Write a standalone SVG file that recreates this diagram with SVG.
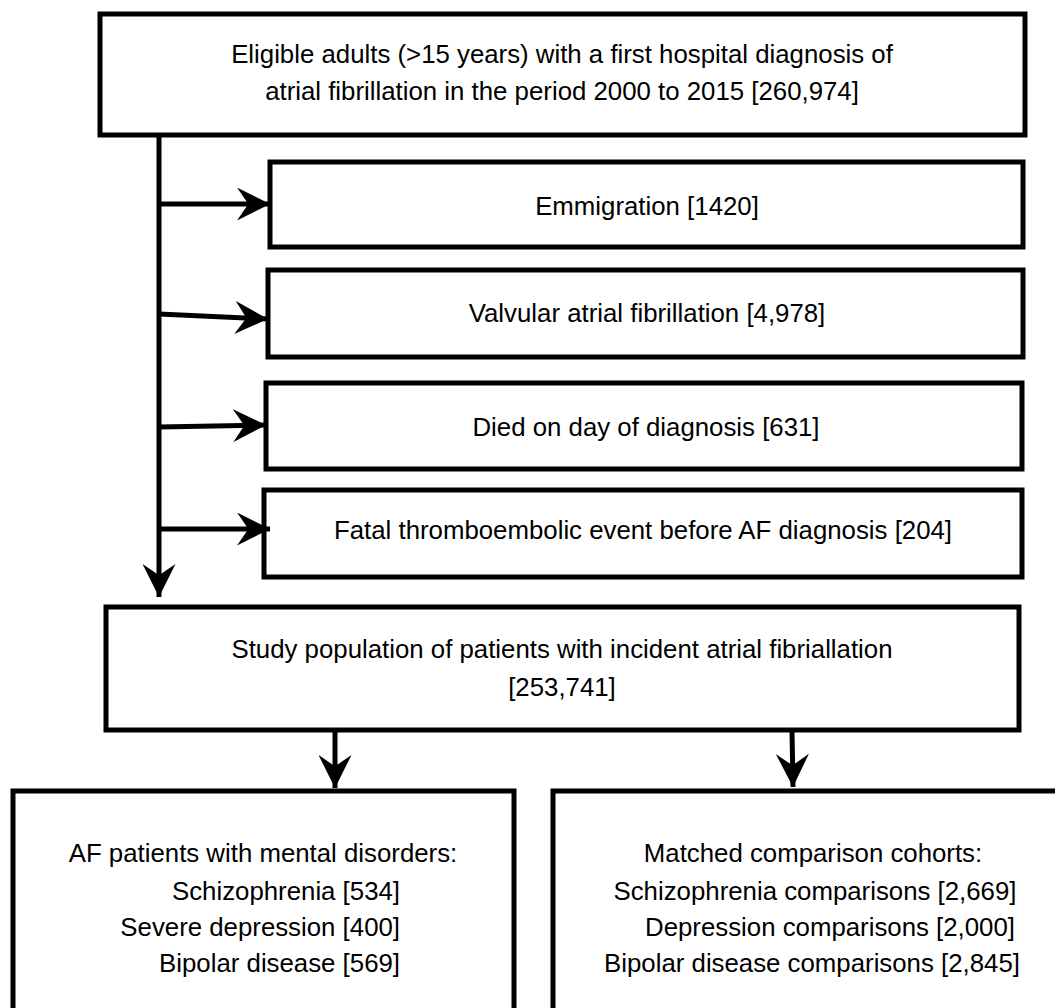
<svg xmlns="http://www.w3.org/2000/svg" width="1055" height="1008" viewBox="0 0 1055 1008">
<style>
.box{fill:#fff;stroke:#000;stroke-width:5}
.t{font-family:"Liberation Sans",Arial,sans-serif;font-size:25.8px;fill:#000}
.c{text-anchor:middle}
.e{text-anchor:end}
.ln{fill:none;stroke:#000;stroke-width:5}
</style>
<defs>
<marker id="ah" viewBox="0 0 32 32" refX="32" refY="16" markerWidth="33" markerHeight="33" markerUnits="userSpaceOnUse" orient="auto">
<path d="M0,0 L32,16 L0,32 L11,16 Z" fill="#000"/>
</marker>
</defs>
<rect width="1055" height="1008" fill="#fff"/>
<g id="n1"><rect class="box" x="100" y="14" width="925" height="121"/>
<text class="t c" x="562" y="63">Eligible adults (&gt;15 years) with a first hospital diagnosis of</text>
<text class="t c" x="562" y="100">atrial fibrillation in the period 2000 to 2015 [260,974]</text></g>
<g id="n2"><rect class="box" x="270" y="162" width="753" height="85"/>
<text class="t c" x="647" y="215">Emmigration [1420]</text></g>
<g id="n3"><rect class="box" x="268" y="270" width="755" height="87"/>
<text class="t c" x="647" y="322">Valvular atrial fibrillation [4,978]</text></g>
<g id="n4"><rect class="box" x="266" y="383" width="756" height="86"/>
<text class="t c" x="646" y="436">Died on day of diagnosis [631]</text></g>
<g id="n5"><rect class="box" x="264" y="490" width="758" height="87"/>
<text class="t c" x="643" y="539">Fatal thromboembolic event before AF diagnosis [204]</text></g>
<g id="n6"><rect class="box" x="106" y="607" width="913" height="123"/>
<text class="t c" x="562" y="658">Study population of patients with incident atrial fibriallation</text>
<text class="t c" x="562" y="696">[253,741]</text></g>
<g id="n7"><rect class="box" x="13" y="791" width="501" height="240"/>
<text class="t c" x="263" y="862">AF patients with mental disorders:</text>
<text class="t e" x="400" y="900">Schizophrenia [534]</text>
<text class="t e" x="400" y="936">Severe depression [400]</text>
<text class="t e" x="400" y="972">Bipolar disease [569]</text></g>
<g id="n8"><rect class="box" x="553" y="791" width="520" height="240"/>
<text class="t c" x="813" y="862">Matched comparison cohorts:</text>
<text class="t c" x="815" y="900">Schizophrenia comparisons [2,669]</text>
<text class="t c" x="830" y="936">Depression comparisons [2,000]</text>
<text class="t c" x="812" y="972">Bipolar disease comparisons [2,845]</text></g>
<g id="edges">
<path class="ln" d="M159,135 L159,597" marker-end="url(#ah)"/>
<path class="ln" d="M159,204 L270,204" marker-end="url(#ah)"/>
<path class="ln" d="M159,314 L268,319" marker-end="url(#ah)"/>
<path class="ln" d="M159,427 L266,425" marker-end="url(#ah)"/>
<path class="ln" d="M159,529 L270,529" marker-end="url(#ah)"/>
<path class="ln" d="M335,730 L335,788" marker-end="url(#ah)"/>
<path class="ln" d="M792,730 L793,787" marker-end="url(#ah)"/>
</g>
</svg>
